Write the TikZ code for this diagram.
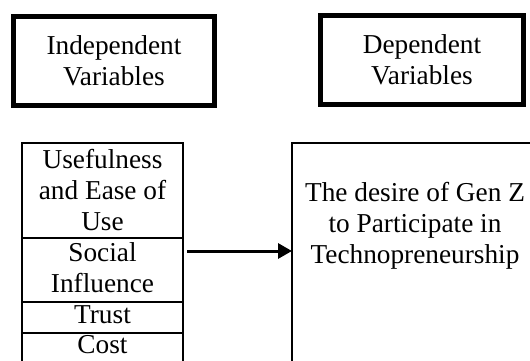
\documentclass[tikz,border=0pt]{standalone}
\usepackage{fontspec}
\setmainfont{Liberation Serif}
\usetikzlibrary{arrows.meta}
\begin{document}
\begin{tikzpicture}[x=1pt,y=-1pt,
  txt/.style={font=\fontsize{27.3}{31}\selectfont, align=center, inner sep=0pt},
  header/.style={draw, line width=5pt, minimum width=201pt, minimum height=88pt, txt},
  cell/.style={draw, line width=1.3pt, minimum width=161pt, txt},
  conn/.style={line width=3pt, -{Triangle[length=14pt,width=15pt]}}
]
\useasboundingbox (0,0) rectangle (530,361);
\clip (0,0) rectangle (530,361);
\node[header] (ind) at (114,61) {Independent\\Variables};
\node[header, minimum width=203pt] (dep) at (422,60) {Dependent\\Variables};

\node[cell, minimum height=95pt] (use) at (102.5,190.5) {Usefulness\\and Ease of\\Use};
\node[cell, minimum height=64pt, text depth=4pt] (soc) at (102.5,270) {Social\\Influence};
\node[cell, minimum height=31pt, text depth=6pt] (tru) at (102.5,317.5) {Trust};
\node[cell, minimum height=31pt, text depth=8pt] (cos) at (102.5,348.5) {Cost};

\draw[line width=1.3pt] (292,420) -- (292,143) -- (540,143);
\node[txt] (desire) at (415,226) {The desire of Gen Z\\to Participate in\\Technopreneurship};
\coordinate (dl) at (292,251);
\coordinate (as) at (187,251);
\draw[conn] (as) -- (dl);
\end{tikzpicture}
\end{document}
